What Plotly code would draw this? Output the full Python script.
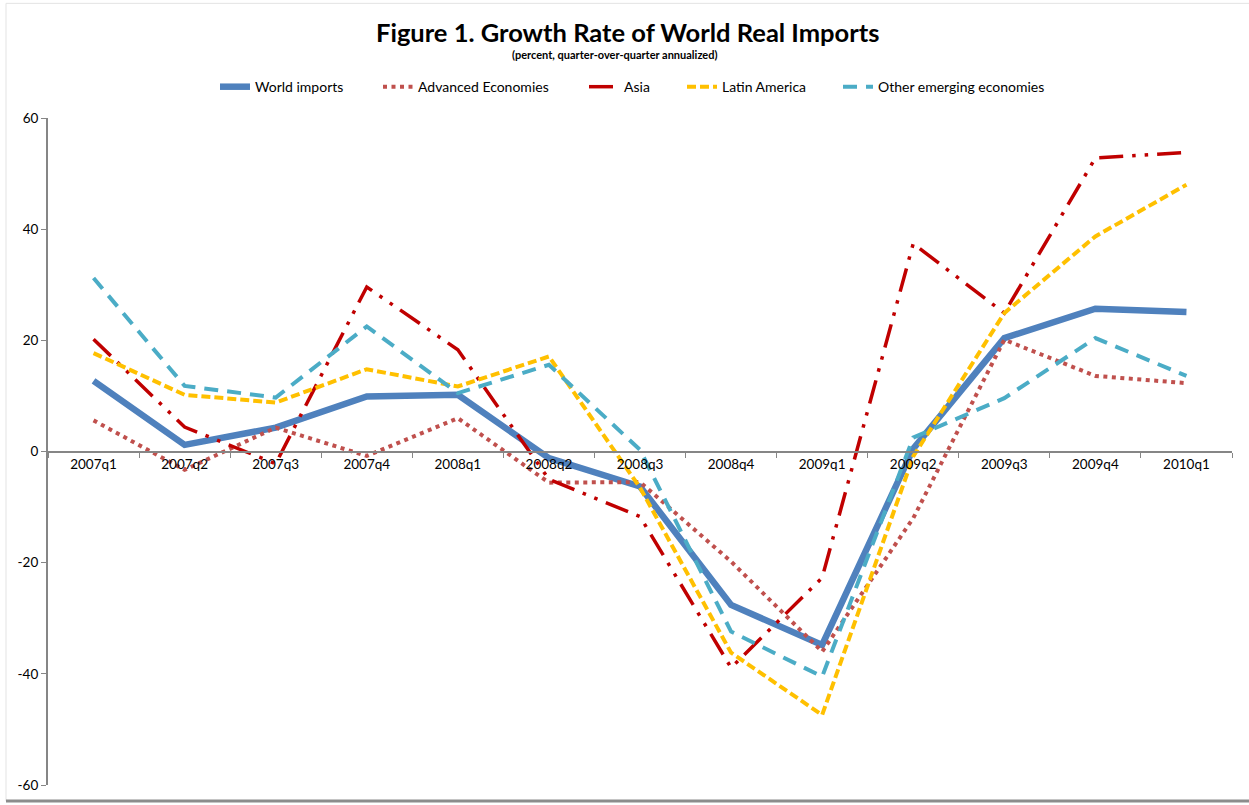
import plotly.graph_objects as go

quarters = ["2007q1", "2007q2", "2007q3", "2007q4", "2008q1", "2008q2", "2008q3",
            "2008q4", "2009q1", "2009q2", "2009q3", "2009q4", "2010q1"]

world_imports = [12.7, 1.2, 4.3, 9.9, 10.2, -1.2, -6.3, -27.6, -34.8, 0.5, 20.4, 25.7, 25.1]
advanced_economies = [5.6, -3.3, 4.3, -0.8, 6.0, -5.6, -5.5, -19.8, -36.0, -12.0, 20.1, 13.6, 12.3]
asia = [20.2, 4.4, -2.2, 29.6, 18.3, -5.0, -11.7, -38.9, -22.7, 37.4, 24.9, 52.8, 53.8]
latin_america = [17.7, 10.2, 8.8, 14.8, 11.7, 17.1, -6.5, -36.2, -47.4, -0.9, 24.9, 38.7, 48.0]
other_emerging = [31.2, 11.8, 9.7, 22.5, 10.5, 15.6, 0.3, -32.4, -40.5, 2.5, 9.6, 20.4, 13.6]

y_ticks = [-60, -40, -20, 0, 20, 40, 60]
y_tick_labels = ["-60", "-40", "-20", "0", "20", "40", "60"]

FONT = "Lato"

# plot area in pixels: x 48..1232, y 118..787
def px_x(px):
    return (px - 48) / 1184.0

def px_y(py):
    return (787 - py) / 669.0

series = [
    ("World imports", world_imports, dict(color="#4F81BD", width=6.5), 215),
    ("Advanced Economies", advanced_economies, dict(color="#C0504D", width=4, dash="4px,4.5px"), 378),
    ("Asia", asia, dict(color="#C00000", width=3.5, dash="24px,9px,3.5px,9px,3.5px,9px"), 584),
    ("Latin America", latin_america, dict(color="#FFC000", width=4, dash="9px,4px"), 682),
    ("Other emerging economies", other_emerging, dict(color="#4BACC6", width=4, dash="14px,9px"), 838),
]

fig = go.Figure()
legend_layout = {}
for i, (name, vals, line, lx) in enumerate(series):
    lg = "legend" if i == 0 else f"legend{i + 1}"
    fig.add_trace(go.Scatter(x=quarters, y=vals, name=name, mode="lines", line=line, legend=lg))
    legend_layout[lg] = dict(x=px_x(lx), xanchor="left", y=px_y(87), yanchor="middle",
                             font=dict(family=FONT, size=14, color="#000000"),
                             bgcolor="rgba(0,0,0,0)", borderwidth=0)

# chart frame
fig.add_shape(type="line", xref="paper", yref="paper", x0=px_x(6), x1=px_x(1260), y0=px_y(3), y1=px_y(3),
              line=dict(color="#e3e3e3", width=1))
fig.add_shape(type="line", xref="paper", yref="paper", x0=px_x(6), x1=px_x(6), y0=px_y(803), y1=px_y(3),
              line=dict(color="#e3e3e3", width=1))
fig.add_shape(type="line", xref="paper", yref="paper", x0=px_x(6), x1=px_x(1260), y0=px_y(803), y1=px_y(803),
              line=dict(color="#8c8c8c", width=3))

fig.add_annotation(text="<b>Figure 1. Growth Rate of World Real Imports</b>", xref="paper", yref="paper",
                   x=px_x(627), y=px_y(32), xanchor="center", yanchor="middle", showarrow=False,
                   font=dict(family=FONT, size=25.5, color="#000000"))
fig.add_annotation(text="<b>(percent, quarter-over-quarter annualized)</b>", xref="paper", yref="paper",
                   x=px_x(614), y=px_y(54), xanchor="center", yanchor="middle", showarrow=False,
                   font=dict(family=FONT, size=11, color="#000000"))

fig.update_layout(
    width=1249, height=805,
    margin=dict(l=48, r=17, t=118, b=18),
    paper_bgcolor="white", plot_bgcolor="white",
    font=dict(family=FONT, size=13, color="#000000"),
    showlegend=True,
    xaxis=dict(
        type="category", range=[-0.5, 12.5], anchor="free", position=0.5,
        showline=True, linecolor="#868686", linewidth=2,
        ticks="outside", tickson="boundaries", ticklen=5, tickcolor="#868686", tickwidth=1,
        showgrid=False, zeroline=False, tickfont=dict(family=FONT, size=13.5),
    ),
    yaxis=dict(
        range=[-60, 60], tickvals=y_ticks, ticktext=y_tick_labels,
        showline=True, linecolor="#868686", linewidth=2,
        ticks="outside", ticklen=5, tickcolor="#868686", tickwidth=1,
        showgrid=False, zeroline=False, tickfont=dict(family=FONT, size=13.5),
    ),
    **legend_layout,
)

fig.write_html("out.html")
